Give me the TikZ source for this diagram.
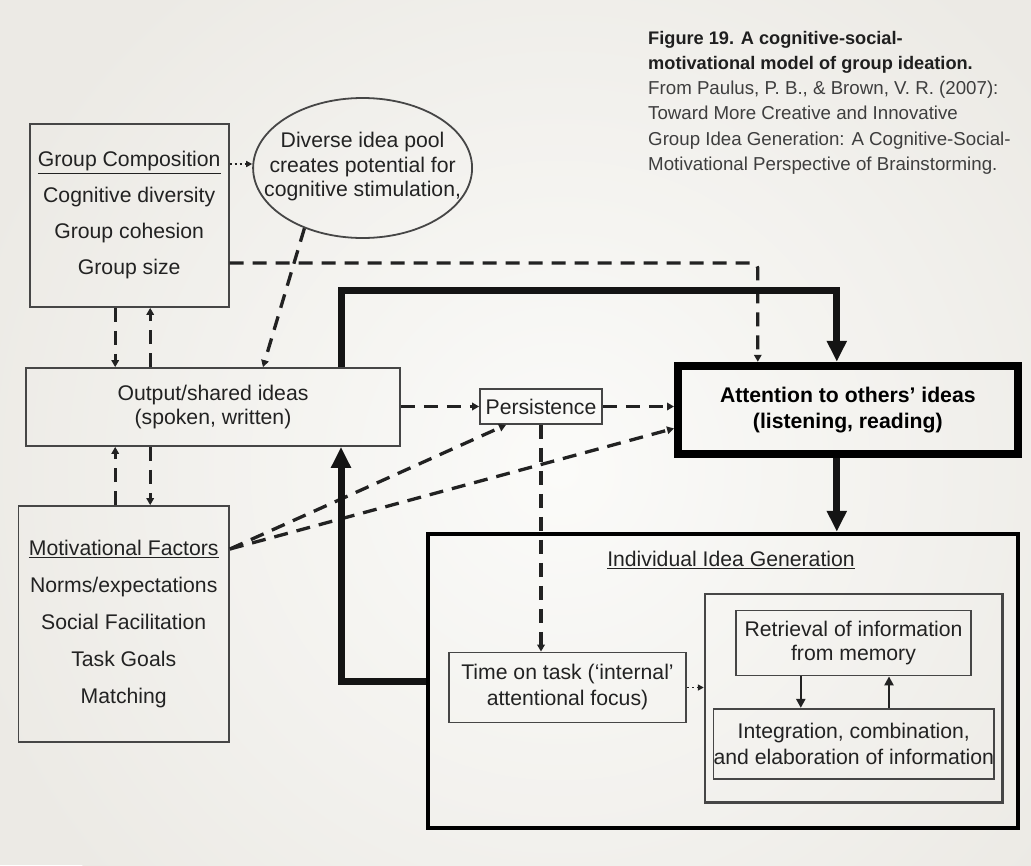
\documentclass[tikz,border=0pt]{standalone}
\usepackage{fontspec}
\setmainfont{Liberation Sans}
\usetikzlibrary{arrows.meta,shapes.geometric,calc}
\definecolor{bgout}{RGB}{236,234,229}
\definecolor{bgin}{RGB}{251,251,249}
\definecolor{ink}{RGB}{34,34,34}
\definecolor{boxline}{RGB}{70,70,70}
\definecolor{captxt}{RGB}{62,62,62}
\begin{document}
\begin{tikzpicture}[x=1pt,y=-1pt,
  every node/.style={text=ink},
  dfont/.style={font=\fontsize{21.2}{#1}\selectfont},
  box/.style={draw=boxline, line width=1.8pt, rectangle, inner sep=0pt, align=center},
  dashline/.style={draw=ink, line width=3.3pt, dash pattern=on 14pt off 9pt, -{Triangle[length=7pt,width=7.5pt]}},
  dotline/.style={draw=ink, line width=1.6pt, dash pattern=on 2pt off 3pt, -{Triangle[length=6pt,width=6pt]}},
  bigline/.style={draw=black!92, line width=7pt, line join=miter, -{Triangle[length=21pt,width=19pt]}},
  capline/.style={anchor=base west, inner sep=0pt, text=captxt, font=\fontsize{18.7}{25}\selectfont},
  capbold/.style={capline, text=black!88, font=\bfseries\fontsize{18.2}{25}\selectfont},
]
\useasboundingbox (0,0) rectangle (1031,865);
\fill[bgout] (0,0) rectangle (1031,865);
\shade[inner color=bgin, outer color=bgout] (560,470) circle (620);

% caption
\node[capbold] (cap1) at (648,44) {Figure 19. A cognitive-social-};
\node[capbold] (cap2) at (648,69.3) {motivational model of group ideation.};
\node[capline] (cap3) at (648,94.6) {From Paulus, P. B., \& Brown, V. R. (2007):};
\node[capline] (cap4) at (648,119.9) {Toward More Creative and Innovative};
\node[capline] (cap5) at (648,145.2) {Group Idea Generation: A Cognitive-Social-};
\node[capline] (cap6) at (648,170.5) {Motivational Perspective of Brainstorming.};

% boxes
\node[box, dfont=36, minimum width=199.2pt, minimum height=183pt] (gc) at (129.2,215.5)
  {\underline{Group Composition}\\Cognitive diversity\\Group cohesion\\Group size};
\node[draw=boxline, line width=1.8pt, ellipse, minimum width=219pt, minimum height=140pt, inner sep=0pt] (ell) at (362.6,168) {};
\node[align=center, inner sep=0pt, dfont=24.5] (elltext) at (362.6,166.6)
  {Diverse idea pool\\creates potential for\\cognitive stimulation,};
\node[box, dfont=24, minimum width=374pt, minimum height=78pt] (out) at (213,407)
  {Output/shared ideas\\(spoken, written)};
\node[box, dfont=37, minimum width=210.6pt, minimum height=236pt] (mf) at (123.7,624)
  {\underline{Motivational Factors}\\Norms/expectations\\Social Facilitation\\Task Goals\\Matching};
\node[box, dfont=24, minimum width=122pt, minimum height=35pt] (pers) at (541,406.5) {Persistence};
\node[draw=black, line width=8pt, rectangle, inner sep=0pt, align=center, minimum width=339.6pt, minimum height=88.3pt,
  text=black, font=\bfseries\fontsize{21.2}{26}\selectfont] (att) at (847.8,409.9)
  {Attention to others' ideas\\(listening, reading)};
\node[draw=black, line width=4.5pt, rectangle, inner sep=0pt, minimum width=590pt, minimum height=294pt] (iig) at (723,681) {};
\node[inner sep=0pt, dfont=24] (iigtitle) at (731,560) {\underline{Individual Idea Generation}};
\node[box, dfont=26, minimum width=237pt, minimum height=70pt] (time) at (567.5,687.5)
  {Time on task (`internal'\\attentional focus)};
\node[draw=boxline, line width=2.4pt, rectangle, inner sep=0pt, minimum width=297.6pt, minimum height=208.5pt] (inner) at (853.8,698.3) {};
\node[box, dfont=24.6, minimum width=235pt, minimum height=65pt] (ret) at (853.5,643)
  {Retrieval of information\\from memory};
\node[box, dfont=26.4, minimum width=278pt, minimum height=70pt] (integ) at (853.8,743.8)
  {Integration, combination,\\and elaboration of information};

% helper coordinates
\coordinate (gcdot) at ([yshift=51.5pt]gc.east);
\coordinate (gcsize) at ([yshift=-47.5pt]gc.east);
\coordinate (mfout) at ([yshift=75pt]mf.east);
\coordinate (vl) at ([xshift=-14pt]gc.south);
\coordinate (vr) at ([xshift=21pt]gc.south);
\coordinate (fb) at ([xshift=128pt]out.south);
\coordinate (fbt) at ([xshift=128pt]out.north);

% connectors
\draw[dotline] (gcdot) -- (ell.west |- gcdot);
\draw[dashline] (ell.226) -- ([xshift=50pt]out.north);
\draw[dashline, rounded corners=5pt] (gcsize) -| ([xshift=-90pt]att.north);
\draw[dashline] (vl) -- (vl |- out.north);
\draw[dashline] (vr |- out.north) -- (vr);
\draw[dashline] (vl |- mf.north) -- (vl |- out.south);
\draw[dashline] (vr |- out.south) -- (vr |- mf.north);
\draw[dashline] (out.east |- pers.west) -- (pers.west);
\draw[dashline] (pers.east) -- (att.west |- pers.east);
\draw[dashline] (mfout) -- ([xshift=-35pt]pers.south);
\draw[dashline] (mfout) -- ([yshift=-18.5pt]att.west);
\draw[dashline] (pers.south) -- (pers.south |- time.north);
\draw[dotline] (time.east) -- (inner.west |- time.east);
\draw[bigline] (fbt) -- ++(0,-77) -| ([xshift=-11pt]att.north);
\draw[bigline] ([xshift=-11pt]att.south) -- ([xshift=-11pt]att.south |- iig.north);
\draw[bigline] (iig.west) -| (fb);
\draw[draw=ink, line width=2.6pt, -{Triangle[length=9pt,width=9pt]}] ([xshift=-52.7pt]ret.south) -- ([xshift=-52.7pt]ret.south |- integ.north);
\draw[draw=ink, line width=2.6pt, -{Triangle[length=9pt,width=9pt]}] ([xshift=35.5pt]ret.south |- integ.north) -- ([xshift=35.5pt]ret.south);
\end{tikzpicture}
\end{document}
